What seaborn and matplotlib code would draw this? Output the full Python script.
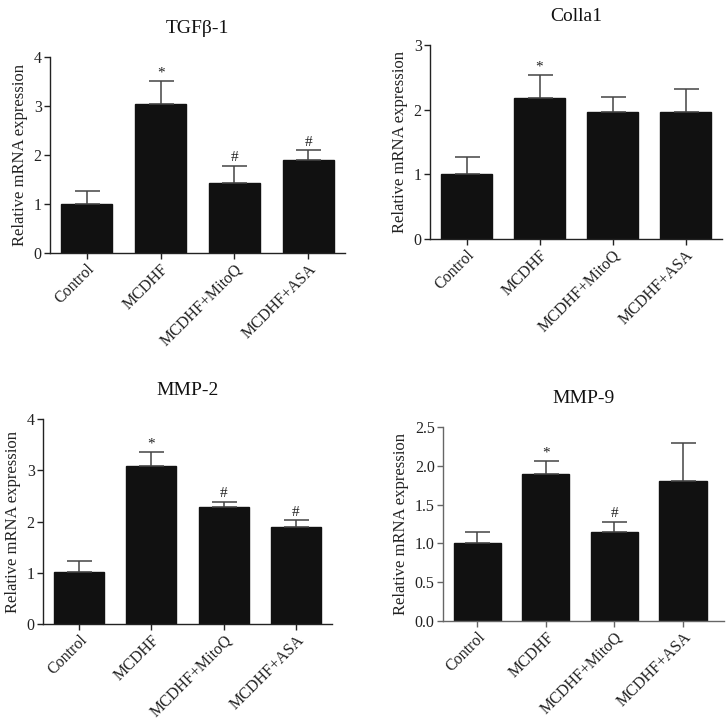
import numpy as np
import matplotlib
matplotlib.use("Agg")
import matplotlib.pyplot as plt
import seaborn as sns

# Groups shared by all four panels
groups = ["Control", "MCDHF", "MCDHF+MitoQ", "MCDHF+ASA"]

# Relative mRNA expression (mean and upper error)
tgf_mean = [1.00, 3.05, 1.43, 1.90]
tgf_err = [0.27, 0.46, 0.35, 0.20]
tgf_marks = ["", "*", "#", "#"]

col_mean = [1.01, 2.18, 1.97, 1.97]
col_err = [0.25, 0.35, 0.22, 0.35]
col_marks = ["", "*", "", ""]

mmp2_mean = [1.02, 3.08, 2.28, 1.89]
mmp2_err = [0.21, 0.27, 0.11, 0.14]
mmp2_marks = ["", "*", "#", "#"]

mmp9_mean = [1.01, 1.90, 1.14, 1.80]
mmp9_err = [0.14, 0.16, 0.14, 0.49]
mmp9_marks = ["", "*", "#", ""]

sns.set_style("ticks")
plt.rcParams["font.family"] = ["Liberation Serif", "DejaVu Serif"]

fig = plt.figure(figsize=(7.27, 7.24), dpi=100)

panels = [
    # title, means, errs, marks, yticks, ylim, rect, xright, axis colour
    ("TGFβ-1", tgf_mean, tgf_err, tgf_marks, [0, 1, 2, 3, 4], 4,
     [0.0688, 0.6506, 0.4058, 0.2707], 3.5, "#222222"),
    ("Colla1", col_mean, col_err, col_marks, [0, 1, 2, 3], 3,
     [0.5915, 0.6699, 0.4017, 0.2680], 3.5, "#222222"),
    ("MMP-2", mmp2_mean, mmp2_err, mmp2_marks, [0, 1, 2, 3, 4], 4,
     [0.0591, 0.1381, 0.3975, 0.2831], 3.5, "#222222"),
    ("MMP-9", mmp9_mean, mmp9_err, mmp9_marks, [0, 0.5, 1.0, 1.5, 2.0, 2.5], 2.5,
     [0.6094, 0.1423, 0.3865, 0.2680], 3.6, "#666666"),
]

for title, means, errs, marks, yticks, ytop, rect, xright, axcol in panels:
    ax = fig.add_axes(rect)
    sns.barplot(x=groups, y=means, color="#111111", width=0.69,
                saturation=1, edgecolor="#111111", ax=ax)
    xs = np.arange(len(groups))
    ax.errorbar(xs, means, yerr=[np.zeros(len(errs)), errs], fmt="none",
                ecolor="#444444", elinewidth=1.1, capsize=9, capthick=1.1,
                zorder=1)
    tops = np.array(means) + np.array(errs)
    for x, t, m in zip(xs, tops, marks):
        if m:
            ax.annotate(m, (x, t), xytext=(0, 1), textcoords="offset points",
                        ha="center", va="bottom", fontsize=11, color="#222222")
    ax.set_xlim(-0.5, xright)
    ax.set_ylim(0, ytop)
    ax.set_yticks(yticks)
    if ytop == 2.5:
        ax.set_yticklabels([f"{v:.1f}" for v in yticks])
    ax.set_ylabel("Relative mRNA expression", fontsize=12, color="#222222")
    ax.set_title(title, fontsize=14, pad=17, color="#111111")
    sns.despine(ax=ax)
    for s in ["left", "bottom"]:
        ax.spines[s].set_color(axcol)
        ax.spines[s].set_linewidth(1.0)
    ax.tick_params(axis="both", direction="out", length=4, width=1.0,
                   colors=axcol, labelcolor="#222222", labelsize=11.5, pad=2)
    for lab in ax.get_xticklabels():
        lab.set_rotation(45)
        lab.set_ha("right")
        lab.set_rotation_mode("anchor")

fig.savefig("out.png", dpi=100)
